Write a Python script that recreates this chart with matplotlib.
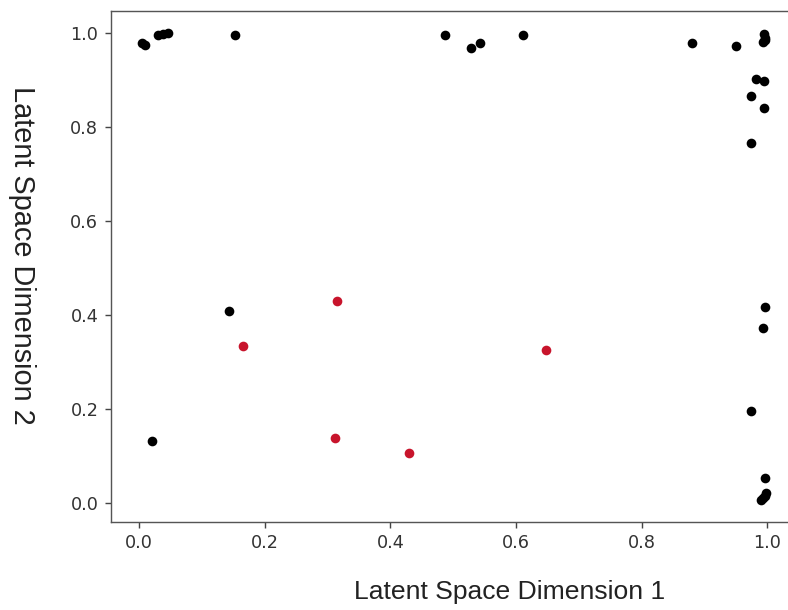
import numpy as np
import matplotlib
matplotlib.use("Agg")
import matplotlib.pyplot as plt

plt.rcParams['font.family'] = ['DejaVu Sans']

# latent codes, background samples (black)
bg_x = [0.004, 0.009, 0.030, 0.038, 0.046, 0.152, 0.487, 0.529, 0.543, 0.611,
        0.880, 0.950, 0.995, 0.996, 0.994, 0.997, 0.983, 0.995, 0.974, 0.995,
        0.974, 0.996, 0.993, 0.143, 0.020, 0.974, 0.996, 0.990, 0.996, 0.998,
        0.993]
bg_y = [0.979, 0.975, 0.996, 0.998, 1.000, 0.996, 0.996, 0.969, 0.979, 0.996,
        0.979, 0.973, 0.999, 0.990, 0.982, 0.985, 0.902, 0.899, 0.867, 0.840,
        0.766, 0.417, 0.374, 0.409, 0.133, 0.197, 0.053, 0.008, 0.015, 0.022,
        0.012]

# highlighted samples (red)
hl_x = [0.166, 0.315, 0.648, 0.311, 0.430]
hl_y = [0.335, 0.430, 0.327, 0.138, 0.108]

fig = plt.figure(figsize=(788 / 127, 610 / 127), dpi=127)
ax = fig.add_axes([0.1405, 0.1448, 0.872, 0.837])

ax.scatter(bg_x, bg_y, s=20, c="black", zorder=2)
ax.scatter(hl_x, hl_y, s=20, c="#c8142c", zorder=3)

ax.set_xlim(-0.0455, 1.049)
ax.set_ylim(-0.039, 1.047)
ax.set_xticks(np.arange(0, 1.01, 0.2))
ax.set_yticks(np.arange(0, 1.01, 0.2))
ax.tick_params(colors="#444444", labelcolor="#333333")
for sp in ax.spines.values():
    sp.set_color("#555555")
ax.spines["right"].set_visible(False)

fig.text(0.647, 0.03, "Latent Space Dimension 1", family="Liberation Sans",
         fontsize=15, color="#222222", ha="center", va="center")
fig.text(0.028, 0.582, "Latent Space Dimension 2", family="Liberation Sans",
         fontsize=16.4, color="#222222", ha="center", va="center", rotation=270)

fig.savefig("out.png", dpi=127)
